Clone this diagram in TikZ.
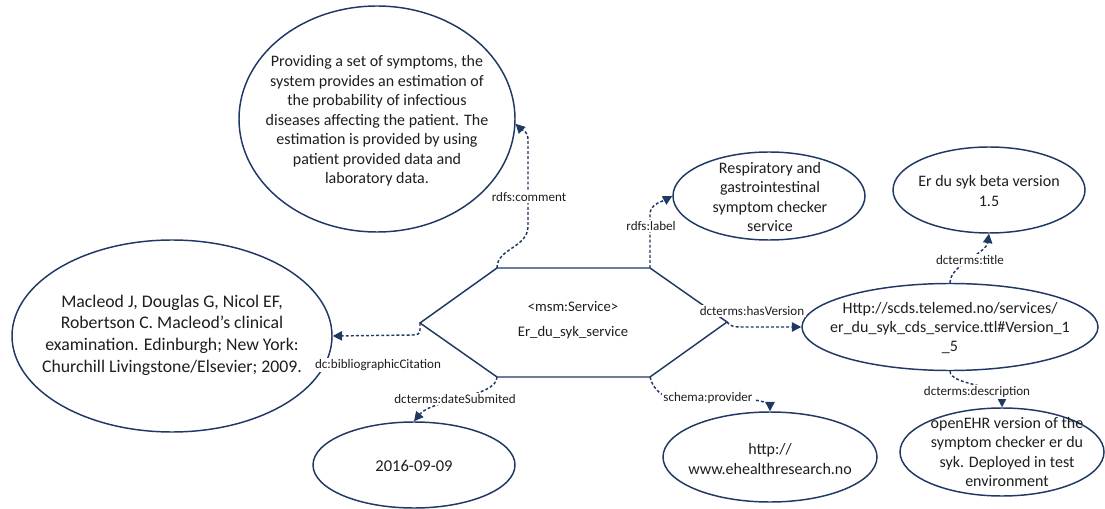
\documentclass[tikz,border=0pt]{standalone}
\usepackage{fontspec}
\setmainfont{Carlito}
\usetikzlibrary{shapes.geometric,arrows.meta}
\definecolor{navy}{RGB}{31,56,100}
\definecolor{ink}{RGB}{30,30,30}
\begin{document}
\begin{tikzpicture}[x=0.75pt,y=-0.75pt,
  res/.style 2 args={ellipse,draw=navy,line width=1.1pt,fill=white,inner sep=0pt,
    minimum width=#1*0.75pt,minimum height=#2*0.75pt},
  rtext/.style={align=center,inner sep=0pt,text=ink,font=\fontsize{12}{14.6}\selectfont},
  rel/.style={draw=navy,line width=1.1pt,dash pattern=on 2.2pt off 1.6pt,
    -{Triangle[length=7pt,width=7pt]}},
  prop/.style={fill=white,inner sep=1pt,text=ink,font=\fontsize{9.8}{11}\selectfont},
  hexline/.style={draw=navy,line width=1.1pt,line join=miter}]
\useasboundingbox (0,0) rectangle (1105,509);

% resource ellipses
\node[res={276}{226}] (cmt) at (377,119) {};
\node[res={192}{88}] (lbl) at (769,196) {};
\node[res={192}{86}] (ttl) at (989,190) {};
\node[res={296}{87}] (ver) at (950,327) {};
\node[res={204}{88}] (desc) at (1002,452) {};
\node[res={214}{90}] (prov) at (770,457) {};
\node[res={202}{86}] (date) at (414,465) {};
\node[res={320}{192}] (cit) at (172,336) {};

% their texts
\node[rtext] (cmtT) at (377,121) {Providing a set of symptoms, the\\ system provides an estimation of\\ the probability of infectious\\ diseases affecting the patient. The\\ estimation is provided by using\\ patient provided data and\\ laboratory data.};
\node[rtext] (lblT) at (770,197) {Respiratory and\\ gastrointestinal\\ symptom checker\\ service};
\node[rtext] (ttlT) at (989,191) {Er du syk beta version\\ 1.5};
\node[rtext] (verT) at (950,328) {Http://scds.telemed.no/services/\\ er\_du\_syk\_cds\_service.ttl\#Version\_1\\ \_5};
\node[rtext] (descT) at (1007,452) {openEHR version of the\\ symptom checker er du\\ syk. Deployed in test\\ environment};
\node[rtext] (provT) at (770,459) {http://\\ www.ehealthresearch.no};
\node[rtext,font=\fontsize{12.4}{14.6}\selectfont] (dateT) at (414,466) {2016-09-09};
\node[rtext,font=\fontsize{13.3}{16.2}\selectfont] (citT) at (172,335) {Macleod J, Douglas G, Nicol EF,\\ Robertson C. Macleod’s clinical\\ examination. Edinburgh; New York:\\ Churchill Livingstone/Elsevier; 2009.};

% the service hexagon
\coordinate (hL)  at (420,323);
\coordinate (hTL) at (497,268);
\coordinate (hTR) at (650,268);
\coordinate (hR)  at (727,322);
\coordinate (hBR) at (650,377);
\coordinate (hBL) at (497,377);
\draw[hexline] (hL) -- (hTL) -- (hTR) -- (hR) -- (hBR) -- (hBL) -- cycle;
\node[align=center,inner sep=0pt,text=ink,font=\fontsize{11}{13.4}\selectfont] (svc) at (573,320)
  {<msm:Service>\\[5pt]Er\_du\_syk\_service};

% bend points of the connectors
\coordinate (c1) at (528,226);
\coordinate (c2) at (528,140);
\coordinate (c3) at (650,214);
\coordinate (c4) at (742,327);
\coordinate (c5) at (676,399);
\coordinate (c6) at (752,400);
\coordinate (c8) at (420,330);
\coordinate (c9) at (413,335);

% property connectors
\draw[rel] (hTL) .. controls +(0,-20) and +(0,22) .. (c1) -- (c2)
  .. controls +(0,-10) and +(6,6) .. (cmt.-2);
\draw[rel] (hTR) -- (c3) .. controls +(0,-10) and +(-9,5) .. (lbl.west);
\draw[rel] (hR) .. controls +(3,5) and +(-6,0) .. (c4) -- (ver.west);
\draw[rel] (ver.north) .. controls +(0,-18) and +(-3,20) .. (ttl.south);
\draw[rel] (ver.south) .. controls +(0,14) and +(0,-22) .. (desc.north);
\draw[rel] (hBR) .. controls +(3,14) and +(-10,0) .. (c5) -- (c6)
  .. controls +(10,0) and +(0,-6) .. (prov.north);
\draw[rel] (hBL) .. controls +(0,20) and +(18,-22) .. (date.north);
\draw[rel] (hL) -- (c8) .. controls +(0,4) and +(4,0) .. (c9) -- (cit.east);

% property names
\node[prop] (pCmt)  at (529,197) {rdfs:comment};
\node[prop] (pLbl)  at (651,226) {rdfs:label};
\node[prop] (pVer)  at (752,311) {dcterms:hasVersion};
\node[prop] (pTtl)  at (970,260) {dcterms:title};
\node[prop] (pDesc) at (977,392) {dcterms:description};
\node[prop] (pProv) at (708,398) {schema:provider};
\node[prop] (pDate) at (455,399) {dcterms:dateSubmited};
\node[prop] (pCit)  at (378,365) {dc:bibliographicCitation};
\end{tikzpicture}
\end{document}
